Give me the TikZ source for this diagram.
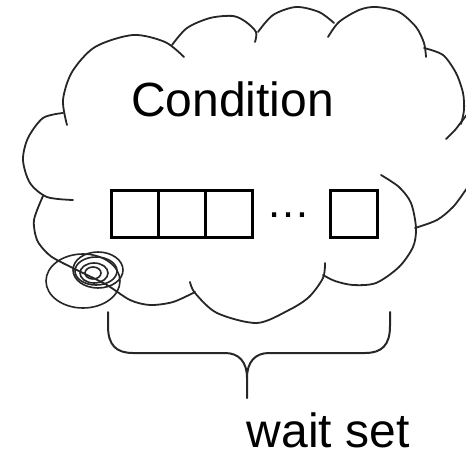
\documentclass[tikz,border=0pt]{standalone}
\usepackage{fontspec}
\setmainfont{Liberation Sans}
\begin{document}
\begin{tikzpicture}[x=1pt,y=-1pt,
  lobe/.style={draw=black!85,line width=1.8pt,line cap=round},
  curl/.style={draw=black!85,line width=1.6pt},
  cell/.style={draw=black,line width=3pt,minimum width=47pt,minimum height=47pt,inner sep=0pt},
  brace/.style={draw=black!85,line width=2pt,line cap=round,line join=round},
  label/.style={font=\fontsize{48}{48}\selectfont,inner sep=0pt}]
\useasboundingbox (0,0) rectangle (466,452);
\clip (0,0) rectangle (466,452);

% cloud outline, one arc per lobe
\draw[lobe] plot[smooth] coordinates {(67,125) (63,100) (72,72) (95,47) (133,35) (165,42) (184,57)};
\draw[lobe] plot[smooth] coordinates {(63,113) (43,118) (28,138) (23,160) (30,183) (47,197) (73,200)};
\draw[lobe] plot[smooth] coordinates {(43,196) (34,220) (37,240) (47,253) (57,260) (83,273) (107,285) (130,300) (150,305) (173,302) (195,292)};
\draw[lobe] plot[smooth] coordinates {(190,282) (195,293) (217,313) (257,323) (289,310) (309,297) (323,278) (325,263)};
\draw[lobe] plot[smooth] coordinates {(323,275) (335,281) (353,285) (376,283) (399,267) (413,247) (416,228) (411,203) (399,187) (381,175)};
\draw[lobe] plot[smooth] coordinates {(472,180) (465,191) (453,207) (437,220) (415,228)};
\draw[lobe] plot[smooth] coordinates {(472,108) (462,121) (455,130) (446,139)};
\draw[lobe] plot[smooth] coordinates {(424,48) (443,55) (456,73) (463,93) (464,110) (461,124)};
\draw[lobe] plot[smooth] coordinates {(328,37) (339,22) (359,10) (376,7) (399,12) (416,27) (424,43) (426,57)};
\draw[lobe] plot[smooth] coordinates {(258,32) (273,15) (296,7) (319,12) (334,23)};
\draw[lobe] plot[smooth] coordinates {(172,45) (187,28) (210,18) (233,16) (246,22) (256,32) (255,42)};

% small curls at the lower left of the cloud
\draw[curl] (83,281) ellipse [x radius=37, y radius=27];
\draw[curl] (98,270) ellipse [x radius=25, y radius=18];
\draw[curl] (96,271) ellipse [x radius=21, y radius=14];
\draw[curl] (94,273) ellipse [x radius=14, y radius=10];
\draw[curl] (93,273) ellipse [x radius=8, y radius=6];

% title
\node[label,anchor=base west] (title) at (131,117) {Condition};

% queue of waiting cells
\node[cell] (c1) at (134.5,214) {};
\node[cell] (c2) at (181.5,214) {};
\node[cell] (c3) at (228.5,214) {};
\node[font=\fontsize{44}{44}\selectfont,inner sep=0pt,anchor=base] (dots) at (288.5,217) {…};
\node[cell] (cn) at (353.5,214) {};

% brace under the cloud
\coordinate (bl) at (108,312);
\coordinate (br) at (390,312);
\coordinate (tip) at (247,398);
\draw[brace] (bl) -- (108,326) .. controls (108,345) and (116,353) .. (133,353)
  -- (225,353) .. controls (239,353) and (247,362) .. (247,378) -- (tip);
\draw[brace] (br) -- (390,326) .. controls (390,345) and (382,353) .. (365,353)
  -- (269,353) .. controls (255,353) and (247,362) .. (247,378);

\node[label,anchor=base west] (waitset) at (246.5,447.5) {wait set};
\end{tikzpicture}
\end{document}
